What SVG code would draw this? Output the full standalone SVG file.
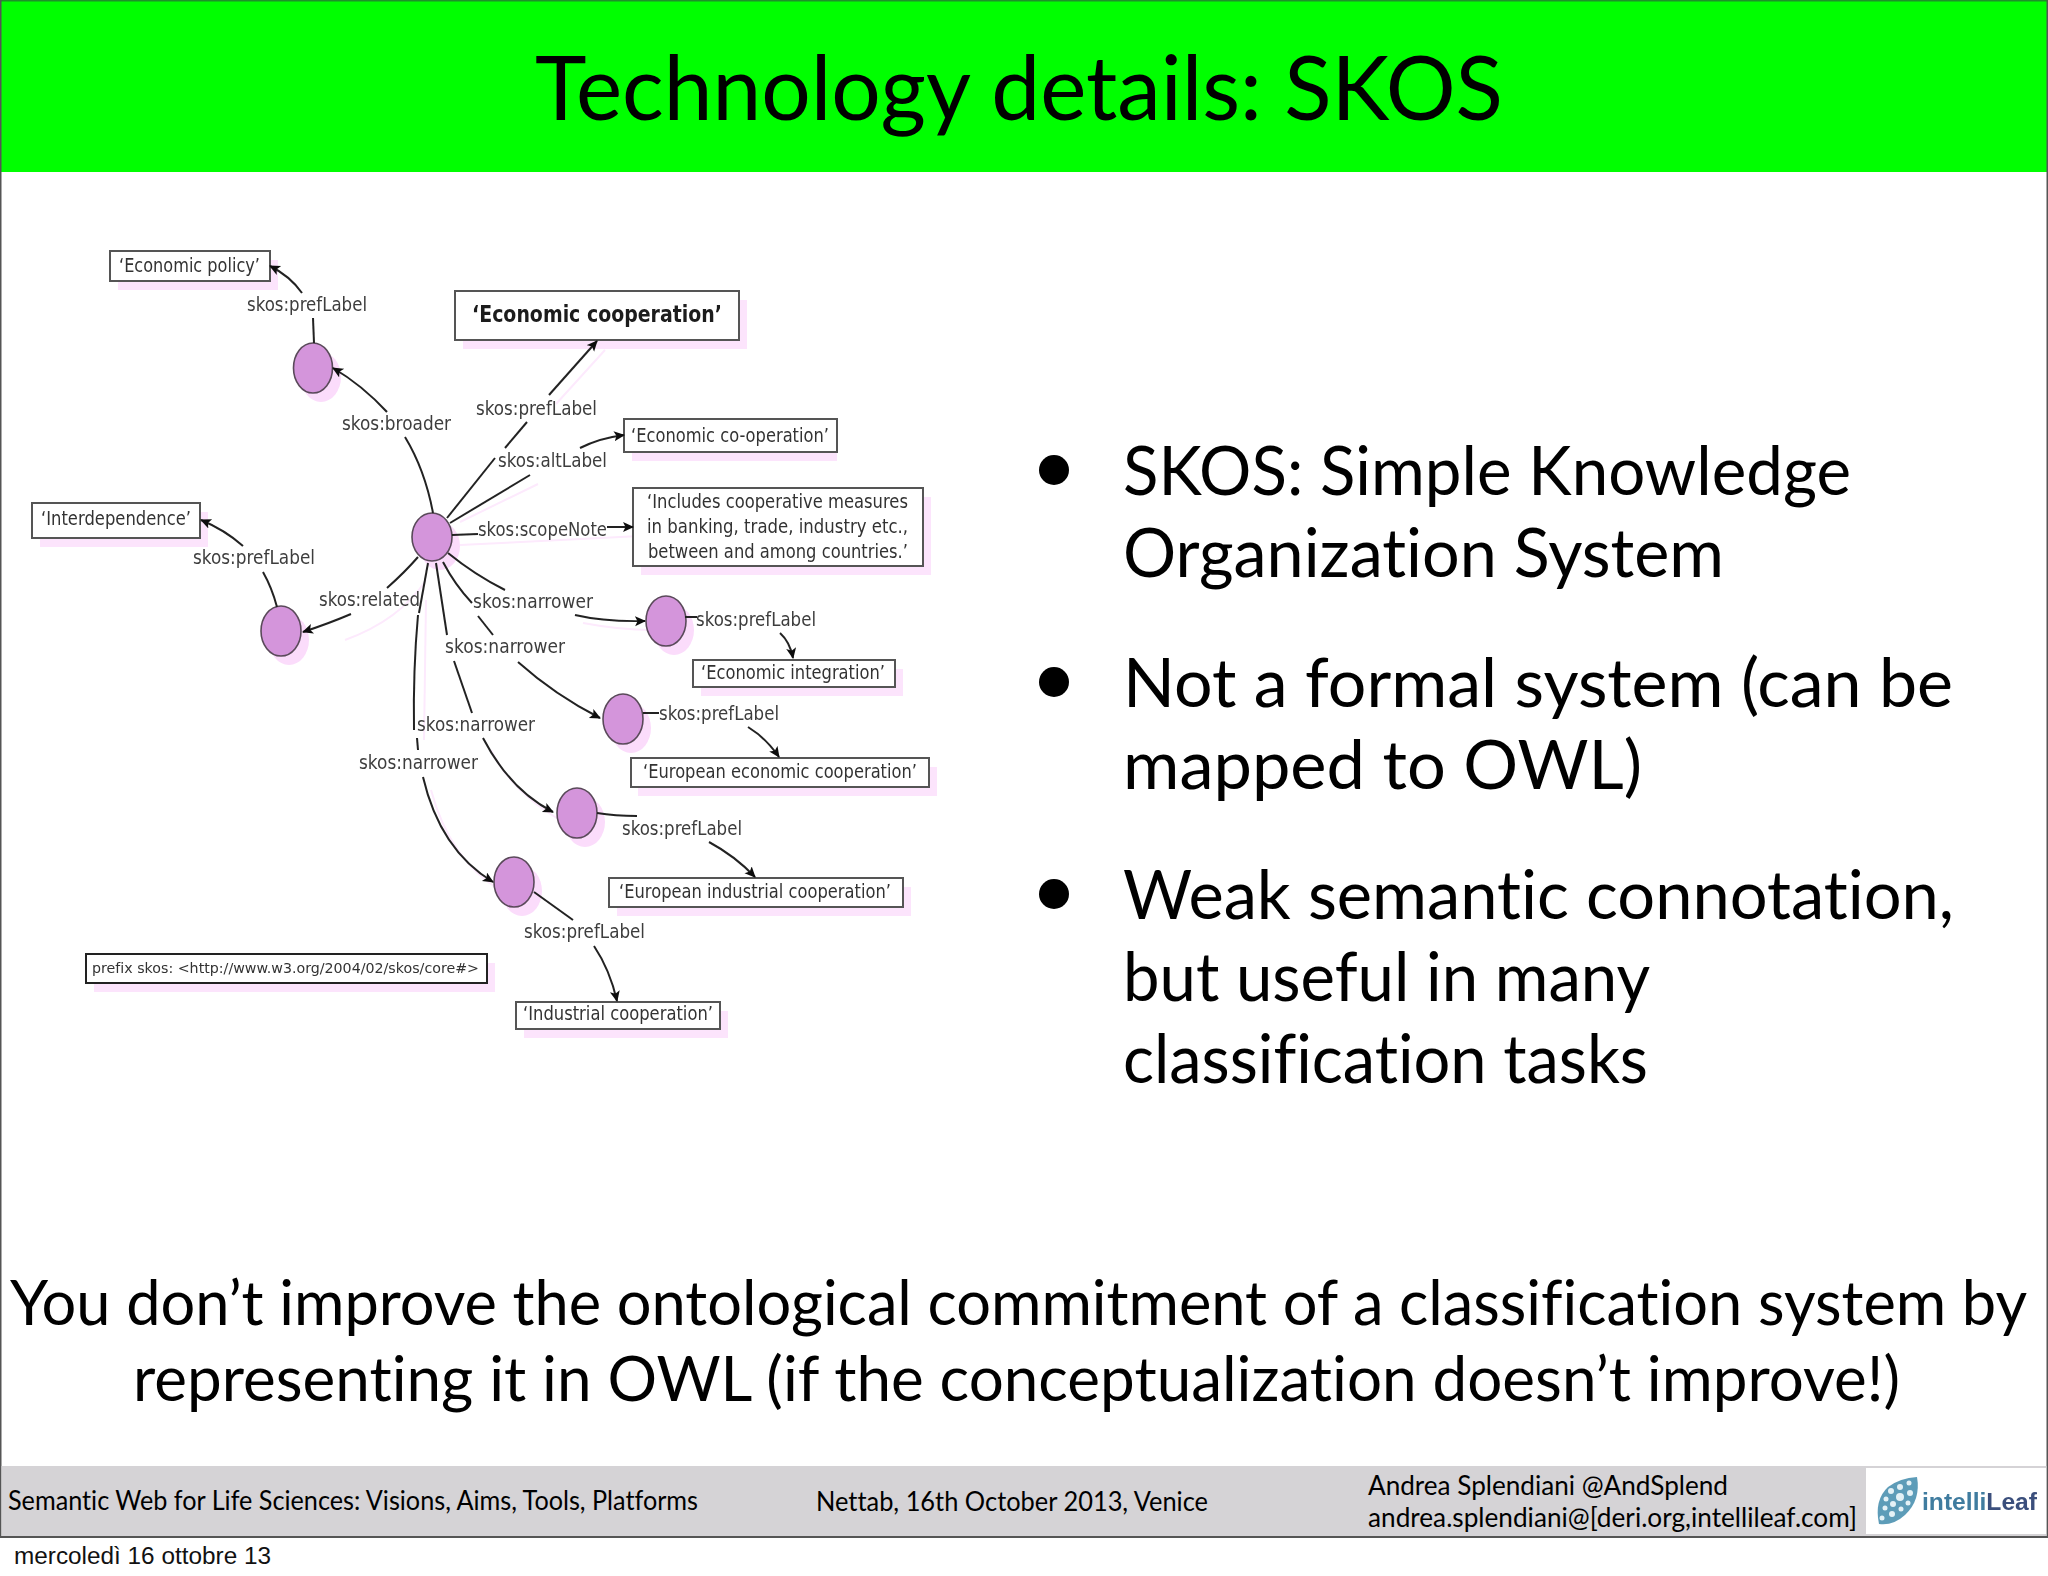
<svg xmlns="http://www.w3.org/2000/svg" width="2048" height="1576" viewBox="0 0 2048 1576">
<style>
text{font-variant-ligatures:none}
.gs{font-family:"Lato","Open Sans","Liberation Sans",sans-serif;fill:#000}
.title{font-size:90px}
.body{font-size:67px}
.bottom{font-size:62px}
.foot{font-size:27px}
.date{font-family:"Liberation Sans",Arial,sans-serif;font-size:23px;fill:#111}
.lab{font-family:"DejaVu Sans",Verdana,sans-serif;font-size:20px;fill:#3e3e3e}
.box{font-family:"DejaVu Sans",Verdana,sans-serif;font-size:20px;fill:#333}
.bold{font-weight:700;font-size:23px;fill:#1c1c1c}
.pre{font-size:14.5px}
.r{fill:#fff;stroke:#555;stroke-width:2}
.rs{fill:#fce4fc;stroke:none}
.c{fill:#d495db;stroke:#5a4a5a;stroke-width:1.6}
.cs{fill:#fbdcfb;stroke:none}
.e{fill:none;stroke:#222;stroke-width:2}
.a{marker-end:url(#arrow)}
.es{fill:none;stroke:#fdeafd;stroke-width:2}
</style>
<defs>
<marker id="arrow" markerUnits="userSpaceOnUse" markerWidth="12" markerHeight="12" refX="10" refY="5" orient="auto">
<path d="M0,0 L11,5 L0,10 L2.5,5 Z" fill="#111"/>
</marker>
<filter id="soft" x="-2%" y="-2%" width="104%" height="104%"><feGaussianBlur stdDeviation="0.6"/></filter>
</defs>
<rect width="2048" height="1576" fill="#fff"/>
<rect x="0" y="0" width="2048" height="172" fill="#00ff00"/>
<rect x="0" y="0" width="2048" height="1.5" fill="#1f8f2a"/>
<rect x="0" y="0" width="1.5" height="1536" fill="#555"/>
<rect x="2046.5" y="0" width="1.5" height="1536" fill="#555"/>
<text class="gs title" x="535" y="120" textLength="968" lengthAdjust="spacingAndGlyphs">Technology details: SKOS</text>

<g id="diagram" filter="url(#soft)">
<g id="connector-shadows">
<path class="es" d="M556,404 L605,350"/>
<path class="es" d="M460,522 L538,484"/>
<path class="es" d="M460,545 L640,536"/>
<path class="es" d="M583,623 Q620,630 652,630"/>
<path class="es" d="M426,580 Q400,620 345,640"/>
<path class="es" d="M426,600 L424,740"/>
<path class="es" d="M431,790 Q450,860 500,890"/>
<path class="es" d="M491,750 Q510,790 560,820"/>
</g>

<g id="node-broader"><ellipse class="cs" cx="321" cy="377" rx="20" ry="25"/><ellipse class="c" cx="313" cy="368" rx="19.5" ry="25"/></g>
<g id="node-central"><ellipse class="cs" cx="440" cy="546" rx="20" ry="24"/><ellipse class="c" cx="432" cy="537" rx="20" ry="24"/></g>
<g id="node-related"><ellipse class="cs" cx="289" cy="640" rx="20" ry="25"/><ellipse class="c" cx="281" cy="631" rx="20" ry="25"/></g>
<g id="node-narrower1"><ellipse class="cs" cx="674" cy="630" rx="20" ry="25"/><ellipse class="c" cx="666" cy="621" rx="20" ry="25"/></g>
<g id="node-narrower2"><ellipse class="cs" cx="631" cy="728" rx="20" ry="25"/><ellipse class="c" cx="623" cy="719" rx="20" ry="25"/></g>
<g id="node-narrower3"><ellipse class="cs" cx="585" cy="822" rx="20" ry="25"/><ellipse class="c" cx="577" cy="813" rx="20" ry="25"/></g>
<g id="node-narrower4"><ellipse class="cs" cx="522" cy="891" rx="20" ry="25"/><ellipse class="c" cx="514" cy="882" rx="20" ry="25"/></g>

<g id="box-economic-policy"><rect class="rs" x="118" y="260" width="160" height="30"/><rect class="r" x="110" y="251" width="160" height="30"/><text class="box" x="119" y="272" textLength="141" lengthAdjust="spacingAndGlyphs">‘Economic policy’</text></g>
<g id="box-interdependence"><rect class="rs" x="40" y="512" width="168" height="35"/><rect class="r" x="32" y="503" width="168" height="35"/><text class="box" x="41" y="525" textLength="150" lengthAdjust="spacingAndGlyphs">‘Interdependence’</text></g>
<g id="box-economic-cooperation"><rect class="rs" x="463" y="300" width="284" height="49"/><rect class="r" x="455" y="291" width="284" height="49"/><text class="box bold" x="472" y="322" textLength="250" lengthAdjust="spacingAndGlyphs">‘Economic cooperation’</text></g>
<g id="box-economic-co-operation"><rect class="rs" x="632" y="428" width="205" height="33"/><rect class="r" x="624" y="419" width="213" height="33"/><text class="box" x="631" y="442" textLength="198" lengthAdjust="spacingAndGlyphs">‘Economic co-operation’</text></g>
<g id="box-scope-note"><rect class="rs" x="641" y="497" width="290" height="78"/><rect class="r" x="633" y="488" width="290" height="78"/>
<text class="box" x="647" y="508" textLength="261" lengthAdjust="spacingAndGlyphs">‘Includes cooperative measures</text>
<text class="box" x="647" y="533" textLength="261" lengthAdjust="spacingAndGlyphs">in banking, trade, industry etc.,</text>
<text class="box" x="648" y="558" textLength="260" lengthAdjust="spacingAndGlyphs">between and among countries.’</text></g>
<g id="box-economic-integration"><rect class="rs" x="701" y="669" width="202" height="27"/><rect class="r" x="693" y="660" width="202" height="27"/><text class="box" x="701" y="679" textLength="184" lengthAdjust="spacingAndGlyphs">‘Economic integration’</text></g>
<g id="box-european-economic"><rect class="rs" x="638" y="767" width="299" height="29"/><rect class="r" x="631" y="758" width="298" height="29"/><text class="box" x="643" y="778" textLength="274" lengthAdjust="spacingAndGlyphs">‘European economic cooperation’</text></g>
<g id="box-european-industrial"><rect class="rs" x="617" y="887" width="294" height="29"/><rect class="r" x="609" y="878" width="294" height="29"/><text class="box" x="619" y="898" textLength="272" lengthAdjust="spacingAndGlyphs">‘European industrial cooperation’</text></g>
<g id="box-industrial"><rect class="rs" x="524" y="1011" width="204" height="27"/><rect class="r" x="516" y="1002" width="204" height="27"/><text class="box" x="523" y="1020" textLength="190" lengthAdjust="spacingAndGlyphs">‘Industrial cooperation’</text></g>
<g id="box-prefix"><rect class="rs" x="94" y="963" width="401" height="29"/><rect class="r" style="stroke:#222" x="86" y="954" width="401" height="29"/><text class="box pre" x="92" y="973" textLength="387" lengthAdjust="spacingAndGlyphs">prefix skos: &lt;http://www.w3.org/2004/02/skos/core#&gt;</text></g>

<g id="connectors">
<path class="e a" d="M302,293 Q290,276 270,266"/>
<path class="e" d="M313,318 L314,343"/>
<path class="e a" d="M387,412 Q362,385 333,368"/>
<path class="e" d="M405,437 Q425,470 433,513"/>
<path class="e a" d="M243,546 Q225,530 201,520"/>
<path class="e" d="M263,572 Q272,588 277,607"/>
<path class="e" d="M418,557 Q405,572 387,588"/>
<path class="e a" d="M351,614 Q330,623 303,632"/>
<path class="e" d="M447,518 L495,458"/>
<path class="e" d="M505,448 L527,422"/>
<path class="e a" d="M549,395 L597,341"/>
<path class="e" d="M450,523 L530,475"/>
<path class="e a" d="M580,448 Q600,438 624,435"/>
<path class="e" d="M452,535 L478,534"/>
<path class="e a" d="M607,527 L633,527"/>
<path class="e" d="M448,553 Q475,575 505,590"/>
<path class="e a" d="M575,615 Q605,622 645,621"/>
<path class="e" d="M443,562 Q455,585 472,603"/>
<path class="e" d="M478,616 L493,635"/>
<path class="e a" d="M518,662 Q555,695 600,718"/>
<path class="e" d="M436,563 L447,635"/>
<path class="e" d="M454,661 L472,713"/>
<path class="e a" d="M483,738 Q510,790 553,812"/>
<path class="e" d="M428,563 L419,613"/>
<path class="e" d="M418,615 Q413,670 414,730"/>
<path class="e" d="M417,738 L418,750"/>
<path class="e a" d="M423,777 Q440,850 493,882"/>
<path class="e" d="M685,617 L697,617"/>
<path class="e a" d="M780,633 Q790,642 793,658"/>
<path class="e" d="M643,713 L659,713"/>
<path class="e a" d="M748,727 Q766,738 779,757"/>
<path class="e" d="M597,813 Q615,816 637,816"/>
<path class="e a" d="M709,842 Q735,856 755,877"/>
<path class="e" d="M534,892 L573,920"/>
<path class="e a" d="M594,946 Q610,970 617,1001"/>
<text class="lab" x="247" y="311" textLength="120" lengthAdjust="spacingAndGlyphs">skos:prefLabel</text>
<text class="lab" x="342" y="430" textLength="109" lengthAdjust="spacingAndGlyphs">skos:broader</text>
<text class="lab" x="193" y="564" textLength="122" lengthAdjust="spacingAndGlyphs">skos:prefLabel</text>
<text class="lab" x="319" y="606" textLength="101" lengthAdjust="spacingAndGlyphs">skos:related</text>
<text class="lab" x="476" y="415" textLength="121" lengthAdjust="spacingAndGlyphs">skos:prefLabel</text>
<text class="lab" x="498" y="467" textLength="109" lengthAdjust="spacingAndGlyphs">skos:altLabel</text>
<text class="lab" x="478" y="536" textLength="129" lengthAdjust="spacingAndGlyphs">skos:scopeNote</text>
<text class="lab" x="473" y="608" textLength="120" lengthAdjust="spacingAndGlyphs">skos:narrower</text>
<text class="lab" x="445" y="653" textLength="120" lengthAdjust="spacingAndGlyphs">skos:narrower</text>
<text class="lab" x="417" y="731" textLength="118" lengthAdjust="spacingAndGlyphs">skos:narrower</text>
<text class="lab" x="359" y="769" textLength="119" lengthAdjust="spacingAndGlyphs">skos:narrower</text>
<text class="lab" x="696" y="626" textLength="120" lengthAdjust="spacingAndGlyphs">skos:prefLabel</text>
<text class="lab" x="659" y="720" textLength="120" lengthAdjust="spacingAndGlyphs">skos:prefLabel</text>
<text class="lab" x="622" y="835" textLength="120" lengthAdjust="spacingAndGlyphs">skos:prefLabel</text>
<text class="lab" x="524" y="938" textLength="121" lengthAdjust="spacingAndGlyphs">skos:prefLabel</text>
</g>
</g>

<g id="bullets">
<circle cx="1054" cy="470" r="15"/><circle cx="1054" cy="682" r="15"/><circle cx="1054" cy="894" r="15"/>
<text class="gs body" x="1123" y="495" textLength="728" lengthAdjust="spacingAndGlyphs">SKOS: Simple Knowledge</text>
<text class="gs body" x="1123" y="577" textLength="601" lengthAdjust="spacingAndGlyphs">Organization System</text>
<text class="gs body" x="1123" y="707" textLength="830" lengthAdjust="spacingAndGlyphs">Not a formal system (can be</text>
<text class="gs body" x="1123" y="789" textLength="519" lengthAdjust="spacingAndGlyphs">mapped to OWL)</text>
<text class="gs body" x="1123" y="919" textLength="831" lengthAdjust="spacingAndGlyphs">Weak semantic connotation,</text>
<text class="gs body" x="1123" y="1001" textLength="527" lengthAdjust="spacingAndGlyphs">but useful in many</text>
<text class="gs body" x="1123" y="1083" textLength="525" lengthAdjust="spacingAndGlyphs">classification tasks</text>
</g>

<g id="statement">
<text class="gs bottom" x="10" y="1325" textLength="2017" lengthAdjust="spacingAndGlyphs">You don’t improve the ontological commitment of a classification system by</text>
<text class="gs bottom" x="133" y="1401" textLength="1767" lengthAdjust="spacingAndGlyphs">representing it in OWL (if the conceptualization doesn’t improve!)</text>
</g>

<g id="footer">
<rect x="1.5" y="1466" width="2045" height="70" fill="#d5d3d6"/>
<rect x="0" y="1536" width="2048" height="2" fill="#555"/>
<text class="gs foot" x="8" y="1510" textLength="690" lengthAdjust="spacingAndGlyphs">Semantic Web for Life Sciences: Visions, Aims, Tools, Platforms</text>
<text class="gs foot" x="816" y="1511" textLength="392" lengthAdjust="spacingAndGlyphs">Nettab, 16th October 2013, Venice</text>
<text class="gs foot" x="1368" y="1495" textLength="360" lengthAdjust="spacingAndGlyphs">Andrea Splendiani @AndSplend</text>
<text class="gs foot" x="1368" y="1527" textLength="489" lengthAdjust="spacingAndGlyphs">andrea.splendiani@[deri.org,intellileaf.com]</text>
<g id="logo" filter="url(#soft)">
<rect x="1866" y="1468" width="180" height="66" fill="#fff"/>
<path d="M1917,1477 Q1921,1500 1905,1515 Q1893,1526 1879,1524 Q1874,1500 1888,1487 Q1900,1478 1917,1477 Z" fill="#5d9cb8"/>
<g fill="#e4f1f6"><circle cx="1909" cy="1483" r="2.5"/><circle cx="1900" cy="1487" r="3"/><circle cx="1891" cy="1491" r="3"/><circle cx="1910" cy="1493" r="3"/><circle cx="1900" cy="1497" r="4"/><circle cx="1886" cy="1499" r="2.5"/><circle cx="1908" cy="1503" r="2.5"/><circle cx="1893" cy="1504" r="3"/><circle cx="1901" cy="1509" r="2.5"/><circle cx="1885" cy="1508" r="2.5"/><circle cx="1892" cy="1514" r="3"/><circle cx="1882" cy="1518" r="2.5"/></g>
<text x="1922" y="1510" font-family="Liberation Sans, Arial, sans-serif" font-weight="700" font-size="24" fill="#3f7c9f" textLength="115" lengthAdjust="spacingAndGlyphs">intelli<tspan fill="#3b4f7c">Leaf</tspan></text>
</g>
</g>
<text class="date" x="14" y="1564" textLength="257" lengthAdjust="spacingAndGlyphs">mercoledì 16 ottobre 13</text>
</svg>
